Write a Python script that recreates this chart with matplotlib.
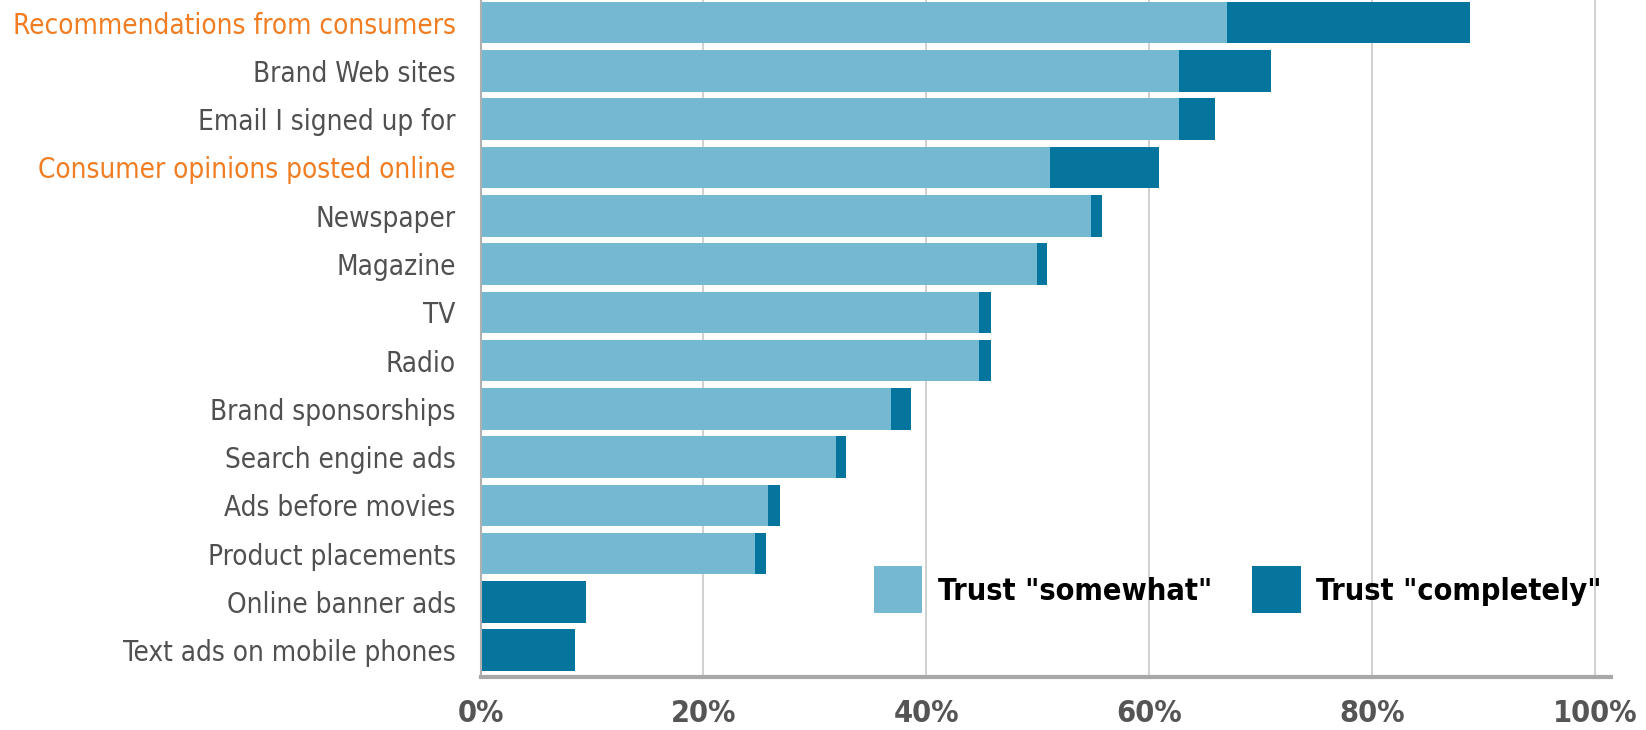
#!/usr/bin/env python3
"""
Trust in advertising channels - stacked horizontal bars
"""
import matplotlib
matplotlib.use('Agg')
import matplotlib.pyplot as plt
from matplotlib.patches import Patch

# --- data ---
channels = [
    'Recommendations from consumers',
    'Brand Web sites',
    'Email I signed up for',
    'Consumer opinions posted online',
    'Newspaper',
    'Magazine',
    'TV',
    'Radio',
    'Brand sponsorships',
    'Search engine ads',
    'Ads before movies',
    'Product placements',
    'Online banner ads',
    'Text ads on mobile phones',
]
trust_somewhat = [67.0, 62.7, 62.7, 51.1, 54.8, 49.9, 44.7, 44.7, 36.8, 31.9, 25.8, 24.6, 0.0, 0.0]
trust_completely = [21.8, 8.2, 3.2, 9.8, 1.0, 0.9, 1.1, 1.1, 1.8, 0.9, 1.1, 1.0, 9.5, 8.5]
highlighted = ['Recommendations from consumers', 'Consumer opinions posted online']
x_ticks = [0, 20, 40, 60, 80, 100]
x_ticklabels = ['0%', '20%', '40%', '60%', '80%', '100%']

LIGHT = '#74B8D2'
DARK = '#05759E'
ORANGE = '#F07D22'
LABEL_GREY = '#505050'
FONT = 'DejaVu Sans'

fig = plt.figure(figsize=(16.46, 7.30), dpi=100)
ax = fig.add_axes([0.292, 0.073, 0.687, 0.927])

y = list(range(len(channels)))
ax.barh(y, trust_somewhat, height=0.86, color=LIGHT, zorder=2)
ax.barh(y, trust_completely, left=trust_somewhat, height=0.86, color=DARK, zorder=2)

ax.set_xlim(0, 101.5)
ax.set_ylim(13.55, -0.47)

# grid + spines
ax.set_xticks(x_ticks)
ax.grid(True, axis='x', color='#c8c8c8', linewidth=1.2, zorder=0)
for s in ['top', 'right']:
    ax.spines[s].set_visible(False)
ax.spines['left'].set_color('#b0b0b0')
ax.spines['left'].set_linewidth(1.5)
ax.spines['bottom'].set_color('#a8a8a8')
ax.spines['bottom'].set_linewidth(3)
ax.tick_params(axis='both', length=0)

ax.set_xticklabels(x_ticklabels, fontsize=22, fontweight='bold',
                   color='#555555', family=FONT, fontstretch='condensed')
ax.tick_params(axis='x', pad=16)

ax.set_yticks(y)
ax.set_yticklabels(channels, fontsize=20, family=FONT, fontstretch='condensed')
ax.tick_params(axis='y', pad=18)
for lbl in ax.get_yticklabels():
    lbl.set_color(ORANGE if lbl.get_text() in highlighted else LABEL_GREY)

# legend
handles = [Patch(facecolor=LIGHT, edgecolor='none'),
           Patch(facecolor=DARK, edgecolor='none')]
fig.legend(handles, ['Trust "somewhat"', 'Trust "completely"'],
           loc='center left', bbox_to_anchor=(0.514, 0.192), ncol=2,
           frameon=False, handlelength=1.6, handleheight=2.0,
           handletextpad=0.5, columnspacing=1.3,
           prop={'family': FONT, 'size': 22, 'weight': 'bold', 'stretch': 'condensed'})

plt.savefig('out.png', dpi=100)
plt.close()
